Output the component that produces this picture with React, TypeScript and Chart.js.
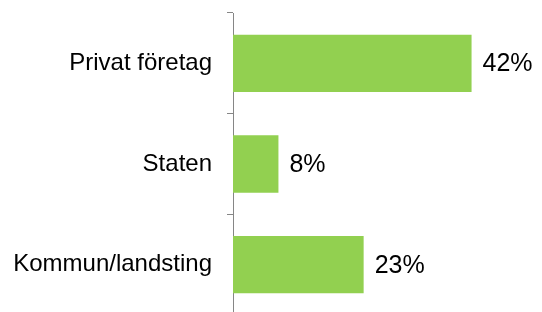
import React, { useEffect, useRef } from "react";
import { Chart, registerables } from "chart.js";

Chart.register(...registerables);

const categories = ["Privat företag", "Staten", "Kommun/landsting"];
const values = [42, 8, 23];
const valueLabels = ["42%", "8%", "23%"];
const axisMax = 50;

const FONT = "'Liberation Sans', Arial, sans-serif";
const FONT_SIZE = 24;
const VALUE_FONT_SIZE = 25;
const BAR_COLOR = "#92D050";
const AXIS_COLOR = "#868686";

const valueLabelPlugin = {
  id: "valueLabels",
  afterDatasetsDraw(chart: any) {
    const ctx = chart.ctx;
    const meta = chart.getDatasetMeta(0);
    ctx.save();
    ctx.font = `${VALUE_FONT_SIZE}px ${FONT}`;
    ctx.fillStyle = "#000000";
    ctx.textAlign = "left";
    ctx.textBaseline = "middle";
    meta.data.forEach((bar: any, i: number) => {
      ctx.fillText(valueLabels[i], bar.x + 11, bar.y + 1);
    });
    ctx.restore();
  },
};

export default function App() {
  const ref = useRef<HTMLCanvasElement | null>(null);

  useEffect(() => {
    if (!ref.current) return;
    const chart = new Chart(ref.current, {
      type: "bar",
      data: {
        labels: categories,
        datasets: [
          {
            data: values,
            backgroundColor: BAR_COLOR,
            borderWidth: 0,
            barPercentage: 0.57,
            categoryPercentage: 1,
          },
        ],
      },
      options: {
        indexAxis: "y",
        animation: false,
        responsive: false,
        maintainAspectRatio: false,
        layout: { padding: { top: 13, right: 25, bottom: 1, left: 0 } },
        plugins: {
          legend: { display: false },
          tooltip: { enabled: false },
        },
        scales: {
          x: {
            display: false,
            min: 0,
            max: axisMax,
          },
          y: {
            afterFit(scale: any) {
              scale.width = 233;
              scale.paddingTop = 0;
              scale.paddingBottom = 0;
            },
            grid: {
              offset: true,
              drawOnChartArea: false,
              drawTicks: true,
              tickLength: 6,
              color: AXIS_COLOR,
              lineWidth: 1,
            },
            border: { display: true, color: AXIS_COLOR, width: 1 },
            ticks: {
              color: "#000000",
              padding: 15,
              font: { family: FONT, size: FONT_SIZE },
            },
          },
        },
      },
      plugins: [valueLabelPlugin],
    });
    return () => chart.destroy();
  }, []);

  return (
    <div style={{ position: "fixed", left: 0, top: 0, width: 542, height: 316, background: "#fff" }}>
      <canvas ref={ref} width={542} height={316} style={{ width: 542, height: 316 }} />
    </div>
  );
}
